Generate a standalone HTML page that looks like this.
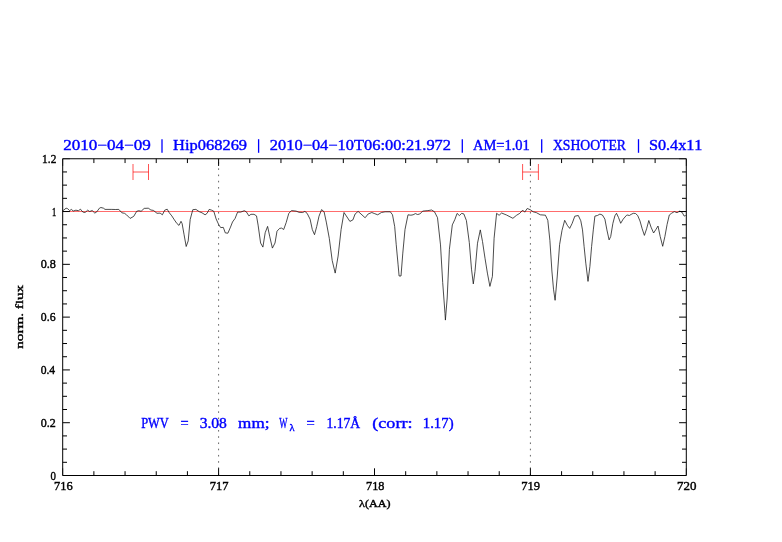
<!DOCTYPE html><html><head><meta charset="utf-8"><title>plot</title><style>html,body{margin:0;padding:0;background:#fff;}body{width:782px;height:542px;overflow:hidden;}svg{display:block;will-change:transform;}text{font-family:"Liberation Serif",serif;font-kerning:none;}</style></head><body>
<svg width="782" height="542" viewBox="0 0 782 542">
<rect width="782" height="542" fill="#fff"/>
<line x1="218.60" y1="162.1" x2="218.60" y2="475" stroke="#000" stroke-opacity="0.6" stroke-width="1" stroke-dasharray="1.6 4.63"/>
<line x1="530.40" y1="162.1" x2="530.40" y2="475" stroke="#000" stroke-opacity="0.6" stroke-width="1" stroke-dasharray="1.6 4.63"/>
<line x1="62.7" y1="211.5" x2="686.3000000000001" y2="211.5" stroke="#ff0000" stroke-width="0.58"/>
<polyline points="62.5,210.5 63.6,210.2 66.1,208.2 67.7,208.7 69.7,210.7 71.3,209.4 73.3,211.0 75.9,210.2 78.4,210.7 80.5,209.2 82.0,211.3 84.0,212.5 85.6,212.1 87.6,210.2 89.7,211.5 92.2,210.5 94.8,213.1 96.8,211.8 99.4,208.2 100.9,207.5 103.5,208.2 105.0,209.4 111.2,209.4 115.8,209.5 118.8,209.4 121.9,212.8 124.5,213.3 126.5,214.8 130.1,218.4 133.7,216.4 136.7,211.3 138.8,210.7 141.1,211.3 144.2,208.4 148.3,208.2 150.9,210.0 153.4,210.4 157.0,213.3 160.1,213.1 162.4,214.8 164.7,210.2 167.2,209.2 169.3,212.8 171.8,215.9 174.4,219.9 176.9,223.5 179.0,225.4 181.0,221.3 182.1,223.5 184.1,234.8 186.2,246.5 188.2,240.9 190.2,219.4 192.8,209.7 195.9,209.4 199.5,211.8 202.0,212.8 205.1,214.8 207.1,213.3 209.2,209.4 211.7,210.2 213.8,211.3 216.1,218.9 218.7,224.6 220.7,227.6 223.3,227.4 225.3,232.9 227.9,233.2 230.5,227.1 232.5,222.0 235.1,218.4 237.6,212.1 240.7,212.1 244.3,210.7 246.3,211.8 248.9,215.9 250.9,214.3 254.0,214.3 256.5,215.9 258.1,225.1 260.6,243.0 262.9,247.1 265.2,232.7 267.6,226.4 269.8,236.8 272.4,248.1 275.0,243.0 277.0,231.2 279.6,228.4 281.6,228.1 283.7,229.5 286.2,222.5 288.8,213.3 291.6,210.6 296.1,211.1 299.0,212.3 302.7,212.5 304.9,211.4 307.1,213.3 310.1,219.2 312.3,229.5 314.5,234.7 316.7,226.6 319.0,216.2 321.6,209.6 324.1,211.8 326.3,222.1 329.3,238.4 332.2,260.5 335.2,273.1 338.1,256.1 341.1,229.5 344.0,212.5 347.0,217.0 349.9,221.4 352.9,219.9 355.1,214.0 358.1,211.4 361.0,214.0 364.7,217.4 365.2,217.7 368.1,214.0 371.8,212.5 374.8,213.7 377.7,214.8 381.4,212.5 385.1,211.8 390.3,211.8 392.5,214.8 394.7,226.6 396.2,244.3 398.1,264.9 399.1,276.0 401.0,276.0 402.8,253.1 405.0,229.5 408.0,214.8 410.9,215.2 413.1,214.8 415.4,213.6 417.6,214.5 419.8,214.0 422.7,211.1 427.9,210.6 431.6,210.0 434.5,211.8 437.5,217.7 440.5,244.9 442.7,282.5 445.0,313.5 445.4,320.1 447.2,298.0 449.4,249.3 452.3,224.9 454.9,219.4 457.1,213.4 459.4,215.6 461.6,213.4 463.8,213.9 466.4,220.5 469.3,242.6 471.5,269.2 473.3,283.9 475.0,271.4 477.5,243.2 480.3,229.9 482.5,241.5 485.0,258.2 487.4,273.1 489.9,286.4 492.4,276.4 494.1,238.2 496.6,213.3 499.1,215.3 501.6,213.0 506.5,215.0 512.9,218.3 516.5,215.3 519.8,213.3 522.7,210.1 524.7,212.2 527.2,208.5 530.2,209.7 533.2,211.8 536.3,212.6 540.3,214.8 545.4,215.2 547.8,220.3 549.9,240.5 551.9,271.0 553.5,289.2 555.1,300.3 557.2,277.0 559.6,244.6 562.0,230.4 564.7,220.3 567.3,225.3 569.7,228.4 572.2,223.3 574.8,216.2 578.3,215.5 580.8,220.8 582.5,229.9 584.1,246.5 585.8,263.2 588.0,281.4 589.9,266.5 591.6,246.5 593.3,229.9 594.9,216.1 597.4,215.5 599.9,214.1 602.4,215.0 604.9,219.1 606.9,229.9 609.1,239.9 610.7,236.6 612.9,223.3 614.9,215.8 616.5,213.3 618.5,217.5 620.7,223.3 623.2,219.1 626.5,215.3 627.2,215.0 629.4,215.5 631.1,214.4 633.3,213.3 635.5,213.5 637.7,215.5 640.0,221.0 642.2,228.8 644.4,235.4 646.6,228.8 648.8,220.5 651.0,227.1 653.6,233.0 656.0,229.3 658.0,226.0 660.2,236.5 662.7,246.3 664.9,236.5 667.1,224.4 669.3,215.0 671.5,213.3 674.3,211.6 677.0,212.7 679.8,211.1 682.0,212.2 684.2,216.1 685.7,215.5" fill="none" stroke="#111" stroke-width="0.75" stroke-linejoin="round"/>
<path d="M133,164V180M148.5,164V180M133,172H148.5" fill="none" stroke="#ff0000" stroke-width="0.68"/>
<path d="M522.6,164V180M538.4,164V180M522.6,172H538.4" fill="none" stroke="#ff0000" stroke-width="0.68"/>
<path d="M62.70,158.75H686.30V475.50H62.70Z" fill="none" stroke="#000" stroke-width="1"/>
<path d="M93.88,475.50V471.20M93.88,158.75V163.05M125.06,475.50V471.20M125.06,158.75V163.05M156.24,475.50V471.20M156.24,158.75V163.05M187.42,475.50V471.20M187.42,158.75V163.05M218.60,475.50V468.30M218.60,158.75V165.95M249.78,475.50V471.20M249.78,158.75V163.05M280.96,475.50V471.20M280.96,158.75V163.05M312.14,475.50V471.20M312.14,158.75V163.05M343.32,475.50V471.20M343.32,158.75V163.05M374.50,475.50V468.30M374.50,158.75V165.95M405.68,475.50V471.20M405.68,158.75V163.05M436.86,475.50V471.20M436.86,158.75V163.05M468.04,475.50V471.20M468.04,158.75V163.05M499.22,475.50V471.20M499.22,158.75V163.05M530.40,475.50V468.30M530.40,158.75V165.95M561.58,475.50V471.20M561.58,158.75V163.05M592.76,475.50V471.20M592.76,158.75V163.05M623.94,475.50V471.20M623.94,158.75V163.05M655.12,475.50V471.20M655.12,158.75V163.05M62.70,462.30H67.00M686.30,462.30H682.00M62.70,449.10H67.00M686.30,449.10H682.00M62.70,435.91H67.00M686.30,435.91H682.00M62.70,422.71H69.90M686.30,422.71H679.10M62.70,409.51H67.00M686.30,409.51H682.00M62.70,396.31H67.00M686.30,396.31H682.00M62.70,383.11H67.00M686.30,383.11H682.00M62.70,369.92H69.90M686.30,369.92H679.10M62.70,356.72H67.00M686.30,356.72H682.00M62.70,343.52H67.00M686.30,343.52H682.00M62.70,330.32H67.00M686.30,330.32H682.00M62.70,317.12H69.90M686.30,317.12H679.10M62.70,303.93H67.00M686.30,303.93H682.00M62.70,290.73H67.00M686.30,290.73H682.00M62.70,277.53H67.00M686.30,277.53H682.00M62.70,264.33H69.90M686.30,264.33H679.10M62.70,251.13H67.00M686.30,251.13H682.00M62.70,237.94H67.00M686.30,237.94H682.00M62.70,224.74H67.00M686.30,224.74H682.00M62.70,211.54H69.90M686.30,211.54H679.10M62.70,198.34H67.00M686.30,198.34H682.00M62.70,185.14H67.00M686.30,185.14H682.00M62.70,171.95H67.00M686.30,171.95H682.00" stroke="#000" stroke-width="1" fill="none"/>
<path d="M62.70,158.75H69.90M62.70,158.75V165.95M686.30,158.75H679.10M686.30,158.75V165.95M62.70,475.50H69.90M62.70,475.50V468.30M686.30,475.50H679.10M686.30,475.50V468.30" stroke="#000" stroke-width="0.6" fill="none"/>
<text x="63.15" y="150.3" font-size="15.0" fill="#0000ff" stroke="#0000ff" stroke-width="0.4" textLength="87.65" lengthAdjust="spacingAndGlyphs">2010−04−09</text>
<text x="173.13" y="150.3" font-size="15.0" fill="#0000ff" stroke="#0000ff" stroke-width="0.4" textLength="73.95" lengthAdjust="spacingAndGlyphs">Hip068269</text>
<text x="269.88" y="150.3" font-size="15.0" fill="#0000ff" stroke="#0000ff" stroke-width="0.4" textLength="181.13" lengthAdjust="spacingAndGlyphs">2010−04−10T06:00:21.972</text>
<text x="472.96" y="150.3" font-size="15.0" fill="#0000ff" stroke="#0000ff" stroke-width="0.4" textLength="56.91" lengthAdjust="spacingAndGlyphs">AM=1.01</text>
<text x="552.90" y="150.3" font-size="15.0" fill="#0000ff" stroke="#0000ff" stroke-width="0.4" textLength="73.12" lengthAdjust="spacingAndGlyphs">XSHOOTER</text>
<text x="648.92" y="150.3" font-size="15.0" fill="#0000ff" stroke="#0000ff" stroke-width="0.4" textLength="53.56" lengthAdjust="spacingAndGlyphs">S0.4x11</text>
<line x1="162" y1="139.2" x2="162" y2="152.8" stroke="#0000ff" stroke-width="1.3"/>
<line x1="258.6" y1="139.2" x2="258.6" y2="152.8" stroke="#0000ff" stroke-width="1.3"/>
<line x1="462.3" y1="139.2" x2="462.3" y2="152.8" stroke="#0000ff" stroke-width="1.3"/>
<line x1="541.7" y1="139.2" x2="541.7" y2="152.8" stroke="#0000ff" stroke-width="1.3"/>
<line x1="638.5" y1="139.2" x2="638.5" y2="152.8" stroke="#0000ff" stroke-width="1.3"/>
<text x="42.10" y="162.85" font-size="12.2" fill="#000" stroke="#000" stroke-width="0.4" textLength="14.23" lengthAdjust="spacingAndGlyphs">1.2</text>
<text x="51.95" y="215.64" font-size="12.2" fill="#000" stroke="#000" stroke-width="0.4" textLength="4.26" lengthAdjust="spacingAndGlyphs">1</text>
<text x="40.64" y="268.43" font-size="12.2" fill="#000" stroke="#000" stroke-width="0.4" textLength="15.23" lengthAdjust="spacingAndGlyphs">0.8</text>
<text x="40.85" y="321.22" font-size="12.2" fill="#000" stroke="#000" stroke-width="0.4" textLength="14.70" lengthAdjust="spacingAndGlyphs">0.6</text>
<text x="40.66" y="374.02" font-size="12.2" fill="#000" stroke="#000" stroke-width="0.4" textLength="14.52" lengthAdjust="spacingAndGlyphs">0.4</text>
<text x="40.84" y="426.81" font-size="12.2" fill="#000" stroke="#000" stroke-width="0.4" textLength="15.02" lengthAdjust="spacingAndGlyphs">0.2</text>
<text x="50.39" y="479.6" font-size="12.2" fill="#000" stroke="#000" stroke-width="0.4" textLength="5.43" lengthAdjust="spacingAndGlyphs">0</text>
<text x="54.08" y="490.4" font-size="12.2" fill="#000" stroke="#000" stroke-width="0.4" textLength="18.69" lengthAdjust="spacingAndGlyphs">716</text>
<text x="209.67" y="490.4" font-size="12.2" fill="#000" stroke="#000" stroke-width="0.4" textLength="18.79" lengthAdjust="spacingAndGlyphs">717</text>
<text x="366.09" y="490.4" font-size="12.2" fill="#000" stroke="#000" stroke-width="0.4" textLength="18.37" lengthAdjust="spacingAndGlyphs">718</text>
<text x="521.27" y="490.4" font-size="12.2" fill="#000" stroke="#000" stroke-width="0.4" textLength="18.84" lengthAdjust="spacingAndGlyphs">719</text>
<text x="676.95" y="490.4" font-size="12.2" fill="#000" stroke="#000" stroke-width="0.4" textLength="19.45" lengthAdjust="spacingAndGlyphs">720</text>
<text x="359.08" y="506.8" font-size="11.3" fill="#000" stroke="#000" stroke-width="0.4" textLength="31.45" lengthAdjust="spacingAndGlyphs">λ(AA)</text>
<text x="-348.75" y="0" font-size="11.2" fill="#000" stroke="#000" stroke-width="0.4" textLength="63.93" lengthAdjust="spacingAndGlyphs" transform="translate(22.7,0) rotate(-90)">norm. flux</text>
<text x="141.19" y="427.8" font-size="15.0" fill="#0000ff" stroke="#0000ff" stroke-width="0.4" textLength="27.65" lengthAdjust="spacingAndGlyphs">PWV</text>
<text x="180.48" y="427.8" font-size="15.0" fill="#0000ff" stroke="#0000ff" stroke-width="0.4" textLength="8.12" lengthAdjust="spacingAndGlyphs">=</text>
<text x="199.66" y="427.8" font-size="15.0" fill="#0000ff" stroke="#0000ff" stroke-width="0.4" textLength="27.24" lengthAdjust="spacingAndGlyphs">3.08</text>
<text x="238.14" y="427.8" font-size="15.0" fill="#0000ff" stroke="#0000ff" stroke-width="0.4" textLength="31.37" lengthAdjust="spacingAndGlyphs">mm;</text>
<text x="279.29" y="427.8" font-size="15.0" fill="#0000ff" stroke="#0000ff" stroke-width="0.4" textLength="8.23" lengthAdjust="spacingAndGlyphs">W</text>
<text x="306.57" y="427.8" font-size="15.0" fill="#0000ff" stroke="#0000ff" stroke-width="0.4" textLength="8.24" lengthAdjust="spacingAndGlyphs">=</text>
<text x="326.50" y="427.8" font-size="15.0" fill="#0000ff" stroke="#0000ff" stroke-width="0.4" textLength="33.70" lengthAdjust="spacingAndGlyphs">1.17Å</text>
<text x="372.31" y="427.8" font-size="15.0" fill="#0000ff" stroke="#0000ff" stroke-width="0.4" textLength="40.16" lengthAdjust="spacingAndGlyphs">(corr:</text>
<text x="422.80" y="427.8" font-size="15.0" fill="#0000ff" stroke="#0000ff" stroke-width="0.4" textLength="30.75" lengthAdjust="spacingAndGlyphs">1.17)</text>
<text x="289.43" y="431.3" font-size="11" fill="#0000ff" stroke="#0000ff" stroke-width="0.4" textLength="5.03" lengthAdjust="spacingAndGlyphs">λ</text>
</svg></body></html>
